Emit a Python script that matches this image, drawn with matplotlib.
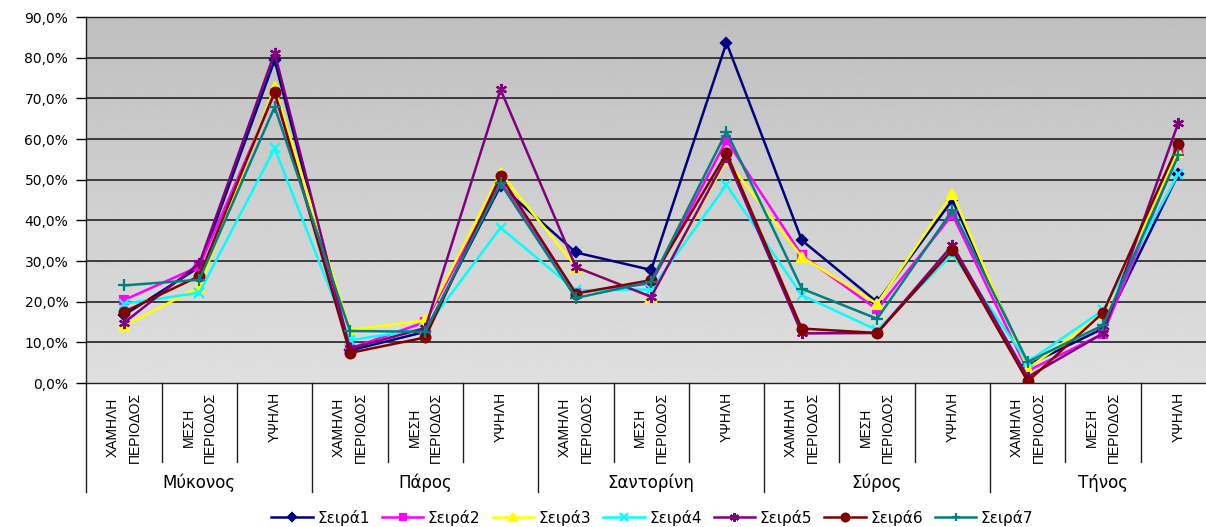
#!/usr/bin/env python3
"""
Line chart of seven series across islands and price periods.

Output:
- out.png
"""

from __future__ import annotations

import matplotlib
import numpy as np

matplotlib.use("Agg")
import matplotlib.pyplot as plt
from matplotlib.ticker import FuncFormatter

islands = ["Μύκονος", "Πάρος", "Σαντορίνη", "Σύρος", "Τήνος"]
periods = ["ΧΑΜΗΛΗ\nΠΕΡΙΟΔΟΣ", "ΜΕΣΗ\nΠΕΡΙΟΔΟΣ", "ΥΨΗΛΗ"]

series_names = ["Σειρά1", "Σειρά2", "Σειρά3", "Σειρά4", "Σειρά5", "Σειρά6", "Σειρά7"]

# values in percent, 15 points each (5 islands x 3 periods)
s1 = [16.7, 28.5, 79.4, 8.0, 12.6, 48.5, 32.1, 27.8, 83.7, 35.1, 19.9, 45.0, 4.4, 13.4, 51.4]
s2 = [20.4, 28.7, 71.2, 8.5, 15.0, 49.5, 22.2, 24.5, 59.7, 31.4, 18.1, 41.4, 3.0, 12.1, 56.6]
s3 = [14.0, 23.6, 72.7, 13.0, 15.4, 51.6, 28.6, 21.2, 54.8, 31.0, 19.5, 46.6, 3.5, 17.1, 56.9]
s4 = [19.5, 22.2, 57.7, 10.5, 13.4, 38.2, 22.8, 23.0, 48.7, 21.6, 13.0, 31.7, 5.2, 17.9, 51.4]
s5 = [14.8, 29.4, 81.2, 8.5, 13.5, 72.2, 28.5, 21.2, 55.5, 12.2, 12.3, 33.9, 1.5, 12.2, 64.0]
s6 = [17.5, 26.3, 71.6, 7.4, 11.2, 50.9, 22.0, 25.3, 56.5, 13.4, 12.3, 32.8, 0.4, 17.3, 58.7]
s7 = [24.0, 25.4, 67.9, 12.8, 12.6, 49.1, 20.9, 24.9, 61.8, 23.2, 15.8, 42.5, 5.2, 14.2, 56.0]

STYLES = [
    ("#000080", "D", 5),
    ("#FF00FF", "s", 6),
    ("#FFFF00", "^", 7),
    ("#00FFFF", "x", 7),
    ("#800080", (6, 2, 0), 8),
    ("#800000", "o", 7),
    ("#008080", "+", 8),
]


def pct(v, _pos):
    return f"{v:.1f}%".replace(".", ",")


def main() -> None:
    plt.rcParams["font.family"] = ["DejaVu Sans"]
    fig = plt.figure(figsize=(12.06, 5.27), dpi=100)
    # axes runs slightly past the right edge, as in the source picture
    ax = fig.add_axes([0.0716, 0.2732, 0.9367, 0.6945])

    n = len(islands) * len(periods)
    x = np.arange(n)
    ax.set_xlim(-0.5, n - 0.5)
    ax.set_ylim(0, 90)

    # grey gradient background
    grad = np.linspace(0.875, 0.75, 256).reshape(-1, 1)
    ax.imshow(grad, cmap="gray", vmin=0, vmax=1, aspect="auto",
              extent=[-0.5, n - 0.5, 0, 90], origin="lower", zorder=0)

    for y in range(10, 90, 10):
        ax.axhline(y, color="#303030", lw=1.3, zorder=1)

    data = [s1, s2, s3, s4, s5, s6, s7]
    for name, vals, (col, mk, ms) in zip(series_names, data, STYLES):
        ax.plot(x, vals, color=col, marker=mk, markersize=ms, lw=1.8,
                markeredgewidth=1.6, markeredgecolor=col, label=name, zorder=3)

    ax.yaxis.set_major_formatter(FuncFormatter(pct))
    ax.set_yticks(range(0, 91, 10))
    ax.tick_params(axis="y", length=7, width=1, direction="out", labelsize=10, pad=6)
    ax.set_xticks([])
    for side in ["left", "top", "bottom"]:
        ax.spines[side].set_color("#202020")
        ax.spines[side].set_linewidth(1.0)
    ax.spines["right"].set_visible(False)

    tr = ax.get_xaxis_transform()
    # category labels
    for i in range(n):
        ax.text(i, -0.025, periods[i % 3], transform=tr, rotation=90,
                ha="center", va="top", multialignment="center",
                fontsize=10, linespacing=1.7, family="Liberation Sans")
    # dividers between categories and groups
    for i in range(n + 1):
        xb = i - 0.5
        low = -0.298 if i % 3 == 0 else -0.216
        ax.plot([xb, xb], [0, low], transform=tr, color="#202020", lw=1.0,
                clip_on=False)
    for g, name in enumerate(islands):
        ax.text(g * 3 + 1, -0.273, name, transform=tr, ha="center", va="center",
                fontsize=12)

    fig.legend(loc="center", bbox_to_anchor=(0.541, 0.018), ncol=7, frameon=False,
               fontsize=11, handlelength=2.7, handletextpad=0.3, columnspacing=0.8,
               markerscale=0.8)

    fig.savefig("out.png", dpi=100)
    plt.close(fig)


if __name__ == "__main__":
    main()
